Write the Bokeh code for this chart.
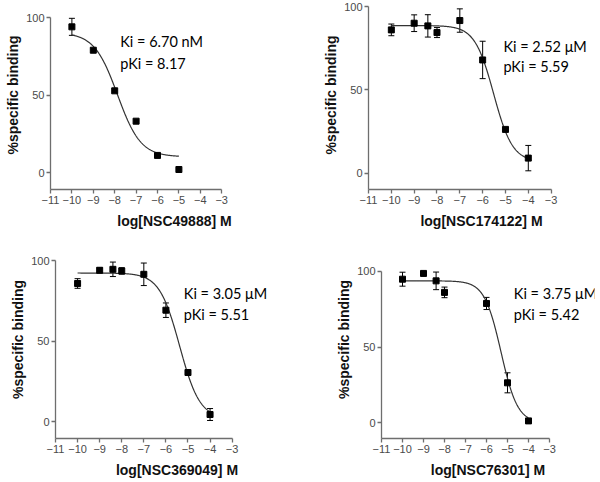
import numpy as np
from bokeh.plotting import figure
from bokeh.models import ColumnDataSource, Whisker, TeeHead, FixedTicker, Label, Range1d
from bokeh.layouts import column, row
from bokeh.embed import file_html
from bokeh.resources import INLINE

# ---------------- data ----------------
p1_x = [-10, -9, -8, -7, -6, -5]
p1_y = [94.2, 79.1, 52.9, 33.3, 11.2, 2.1]
p1_err = [5.5, 0, 0, 0, 0, 0]
p1_fit = [90.5, 10.3, -7.87, 0.8]      # top, bottom, logIC50, hill
p1_span = [-10, -5]
p1_label = "log[NSC49888] M"
p1_text = ["Ki = 6.70 nM", "pKi = 8.17"]

p2_x = [-10, -9, -8.4, -8, -7, -6, -5, -4]
p2_y = [86.0, 90.0, 88.4, 84.4, 91.6, 68.0, 26.4, 9.2]
p2_err = [3.5, 5.0, 6.7, 3.0, 7.0, 11.2, 0, 7.6]
p2_fit = [88.6, 7.0, -5.52, 1.05]
p2_span = [-10, -4]
p2_label = "log[NSC174122] M"
p2_text = ["Ki = 2.52 μM", "pKi = 5.59"]

p3_x = [-10, -9, -8.4, -8, -7, -6, -5, -4]
p3_y = [86.0, 94.2, 94.8, 93.8, 91.7, 69.4, 30.7, 4.6]
p3_err = [3.0, 1.5, 4.5, 2.0, 7.0, 4.5, 0, 3.7]
p3_fit = [92.5, 2.0, -5.38, 0.95]
p3_span = [-10, -4]
p3_label = "log[NSC369049] M"
p3_text = ["Ki = 3.05 μM", "pKi = 5.51"]

p4_x = [-10, -9, -8.4, -8, -6, -5, -4]
p4_y = [94.7, 98.5, 93.6, 86.0, 78.7, 26.4, 1.3]
p4_err = [4.6, 0, 5.8, 3.5, 4.0, 6.6, 0]
p4_fit = [93.6, 0.0, -5.31, 1.1]
p4_span = [-10, -4]
p4_label = "log[NSC76301] M"
p4_text = ["Ki = 3.75 μM", "pKi = 5.42"]

x_ticks = [-11, -10, -9, -8, -7, -6, -5, -4, -3]
y_ticks = [0, 50, 100]


def make_panel(xs, ys, errs, fit, span, xlabel, texts, text_xy,
               yr, xpx, width, height, bl, bt, bb, br=2):
    fw = width - bl - br
    fh = height - bt - bb
    xend = -11 + fw / xpx          # frame reaches past -3 so the notes fit
    p = figure(frame_width=fw, frame_height=fh,
               x_range=Range1d(-11, xend), y_range=Range1d(yr[0], yr[1]),
               min_border_left=bl, min_border_right=br,
               min_border_top=bt, min_border_bottom=bb,
               output_backend="svg", toolbar_location=None)
    p.outline_line_color = None
    p.xgrid.grid_line_color = None
    p.ygrid.grid_line_color = None
    p.background_fill_color = "white"
    p.border_fill_color = "white"

    # fitted sigmoid (4-parameter logistic from the fit parameters)
    top, bottom, logic50, hill = fit
    cx = np.linspace(span[0], span[1], 300)
    cy = bottom + (top - bottom) / (1 + 10 ** ((cx - logic50) * hill))
    p.line(cx, cy, line_color="#333333", line_width=1.2)

    # error bars
    ex = [x for x, e in zip(xs, errs) if e > 0]
    eu = [y + e for y, e in zip(ys, errs) if e > 0]
    el = [y - e for y, e in zip(ys, errs) if e > 0]
    esrc = ColumnDataSource(dict(x=ex, upper=eu, lower=el))
    w = Whisker(base="x", upper="upper", lower="lower", source=esrc,
                line_color="black", line_width=1,
                upper_head=TeeHead(size=6, line_color="black", line_width=1),
                lower_head=TeeHead(size=6, line_color="black", line_width=1))
    p.add_layout(w)

    src = ColumnDataSource(dict(x=xs, y=ys))
    p.scatter("x", "y", source=src, marker="square", size=6,
              fill_color="black", line_color="black")

    for t, (tx, ty) in zip(texts, text_xy):
        p.add_layout(Label(x=tx, y=ty, text=t, text_font="Lato",
                           text_font_size="14.5px", text_color="black",
                           text_baseline="middle", text_align="left"))

    p.xaxis.axis_label = xlabel
    p.yaxis.axis_label = "%specific binding"
    for ax in (p.xaxis[0], p.yaxis[0]):
        ax.axis_label_text_font = "Liberation Sans"
        ax.axis_label_text_font_style = "bold"
        ax.axis_label_text_font_size = "14px"
        ax.axis_label_text_color = "#111111"
        ax.major_label_text_font = "Liberation Sans"
        ax.major_label_text_font_size = "11px"
        ax.major_label_text_color = "#4a4a4a"
        ax.axis_line_color = "#6e6e6e"
        ax.axis_line_width = 1.3
        ax.major_tick_line_color = "#6e6e6e"
        ax.major_tick_line_width = 1.3
        ax.major_tick_out = 4
        ax.major_tick_in = 0
        ax.minor_tick_line_color = None
    p.xaxis.ticker = FixedTicker(ticks=x_ticks)
    p.yaxis.ticker = FixedTicker(ticks=y_ticks)
    p.xaxis.bounds = (-11, -3)
    p.yaxis.bounds = (yr[0], 100)
    p.xaxis.major_label_standoff = 2
    p.yaxis.major_label_standoff = 2
    p.xaxis.axis_label_standoff = 6
    p.yaxis.axis_label_standoff = 2
    return p


# row 1: height 235 (top border 0, frame 189, bottom border 46)
p1 = make_panel(p1_x, p1_y, p1_err, p1_fit, p1_span, p1_label, p1_text,
                [(-7.74, 84.7), (-7.74, 70.5)],
                (-10.8, 111.2), 21.4, 300, 235, 50, 0, 46)
p2 = make_panel(p2_x, p2_y, p2_err, p2_fit, p2_span, p2_label, p2_text,
                [(-5.09, 76.0), (-5.09, 64.0)],
                (-9.6, 103.6), 22.83, 296, 235, 68, 0, 46)
# row 2: height 246 (top border 5, frame 198, bottom border 43)
p3 = make_panel(p3_x, p3_y, p3_err, p3_fit, p3_span, p3_label, p3_text,
                [(-5.19, 79.8), (-5.19, 66.9)],
                (-10.3, 112.7), 22.08, 300, 246, 55, 5, 43)
p4 = make_panel(p4_x, p4_y, p4_err, p4_fit, p4_span, p4_label, p4_text,
                [(-4.7, 85.3), (-4.7, 71.7)],
                (-10.3, 120.2), 21.0, 296, 246, 81, 5, 43)

layout = column(row(p1, p2, spacing=0), row(p3, p4, spacing=0), spacing=0)
open("out.html", "w").write(file_html(layout, INLINE))
